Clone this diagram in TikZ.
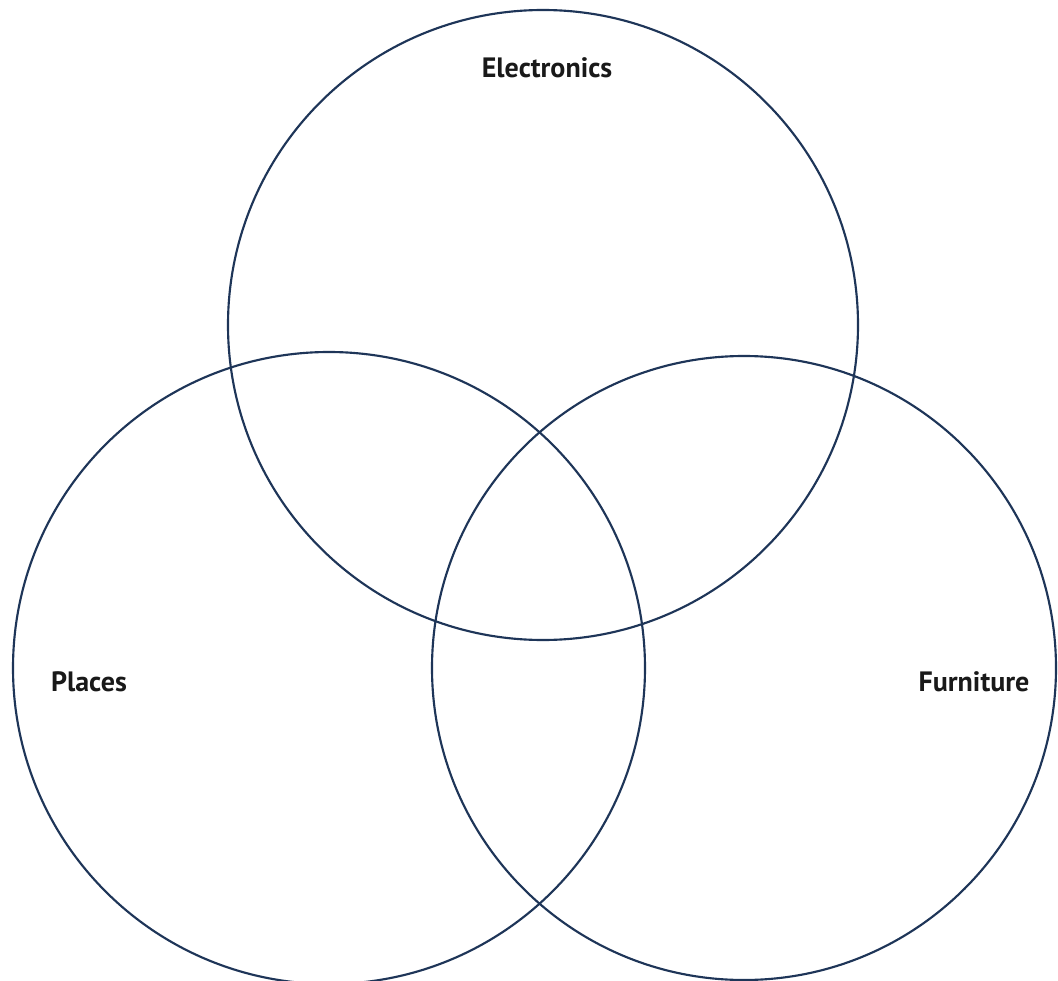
\documentclass[tikz,border=0pt]{standalone}
\usepackage{fontspec}
\setmainfont{PT Sans}
\begin{document}
\begin{tikzpicture}[x=0.75pt,y=-0.75pt,
  ring/.style={draw=ringcol,line width=1.6pt},
  lab/.style={font=\fontsize{21}{24}\selectfont\bfseries,text=black!90,inner sep=0pt}]
\definecolor{ringcol}{HTML}{1E3558}
\useasboundingbox (0,0) rectangle (1058,981);
\fill[white] (0,0) rectangle (1058,981);
\draw[ring] (543,325) circle[radius=315];
\draw[ring] (329,668) circle[radius=316];
\draw[ring] (744,668) circle[radius=312];
\node[lab] (electronics) at (547,68) {Electronics};
\node[lab] (places) at (89,682) {Places};
\node[lab] (furniture) at (974,682) {Furniture};
\end{tikzpicture}
\end{document}
